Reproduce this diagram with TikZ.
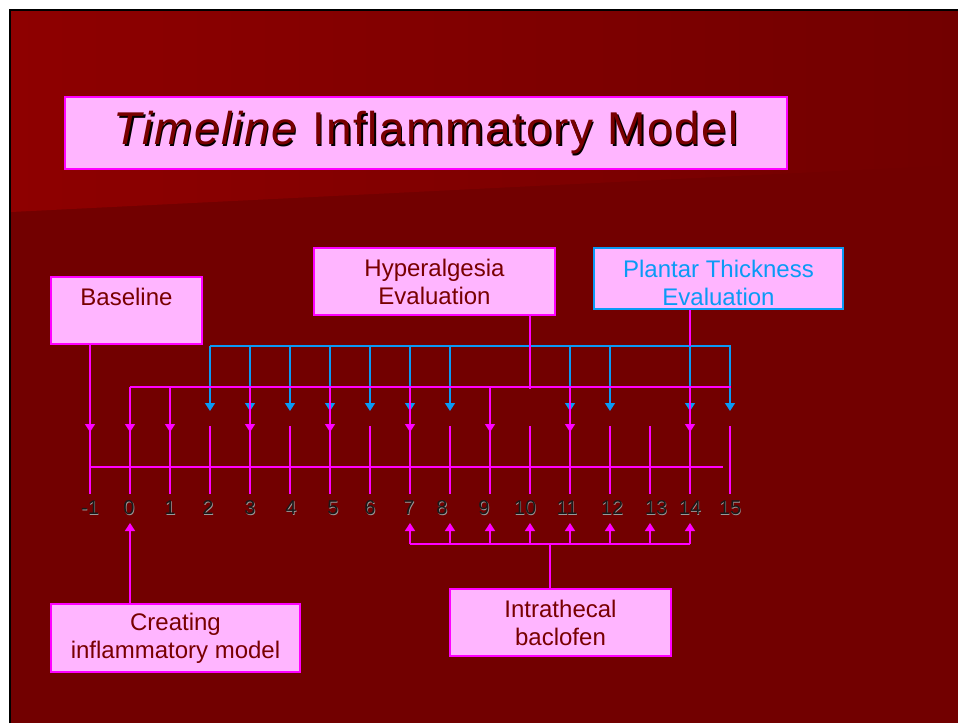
\documentclass[tikz,border=0pt]{standalone}
\usepackage{fontspec}
\setmainfont{Liberation Sans}
\usetikzlibrary{arrows.meta}

\definecolor{slidered}{HTML}{720000}
\definecolor{slidetop}{HTML}{8E0000}
\definecolor{boxpink}{HTML}{FFB5FF}
\definecolor{hotpink}{HTML}{FF00FF}
\definecolor{wine}{HTML}{780000}
\definecolor{skyblue}{HTML}{0A9AF5}

\newcommand{\titlewords}{\addfontfeatures{LetterSpace=3}\textit{Timeline} Inflammatory Model}

\begin{document}
\begin{tikzpicture}[x=1pt,y=-1pt,>={Triangle[width=10pt,length=8pt]},
                    line width=1.4pt]
  \tikzstyle{every node}=[font=\fontsize{24}{28}\selectfont]
  \tikzstyle{slidebox}=[draw=hotpink,fill=boxpink,text=wine,line width=1.6pt,
                        align=center,inner sep=0pt]
  \tikzstyle{titletext}=[text=wine,font=\fontsize{46}{52}\selectfont]
  \tikzstyle{dayline}=[draw=hotpink]
  \tikzstyle{evalline}=[draw=skyblue]
  \tikzstyle{daynum}=[text=black!90,font=\fontsize{20}{24}\selectfont]

  \useasboundingbox (0,0) rectangle (958,723);
  % slide background
  \fill[white] (0,0) rectangle (958,723);
  \fill[slidered] (10,10) rectangle (958,723);
  \shade[left color=slidetop,right color=slidered] (11,11) -- (958,11) -- (958,165) -- (11,212) -- cycle;
  \draw[black,line width=1.5pt] (10,723) -- (10,10) -- (958,10);

  \node[slidebox,minimum width=722pt,minimum height=72pt] (title) at (426,133) {};
  \node[titletext,text=black] at ([xshift=1.6pt,yshift=-1.6pt]title.center) {\titlewords};
  \node[titletext] (titletxt) at (title.center) {\titlewords};

  \node[slidebox,minimum width=151pt,minimum height=67pt] (baseline) at (126.5,310.5) {Baseline\\~};
  \node[slidebox,minimum width=241pt,minimum height=67pt] (hyper)    at (434.5,281.5) {Hyperalgesia\\Evaluation};
  \node[slidebox,draw=skyblue,minimum width=249pt,minimum height=61pt] (plantar) at (718.5,278.5) {};
  \node[text=skyblue,align=center] (plantartxt) at ([yshift=-4.5pt]plantar.center) {Plantar Thickness\\Evaluation};
  \node[slidebox,minimum width=249pt,minimum height=68pt] (creating) at (175.5,638) {Creating\\inflammatory model};
  \node[slidebox,minimum width=221pt,minimum height=67pt] (intra)    at (560.5,622.5) {Intrathecal\\baclofen};

  % days
  \foreach \d in {-1,0,...,15} {
    \coordinate (top\d) at (130+40*\d,426);
    \coordinate (bot\d) at (130+40*\d,494);
    \coordinate (up\d)  at (130+40*\d,523);
    \draw[dayline] (top\d) -- (bot\d);
  }
  \coordinate (axisL) at (91,467);
  \coordinate (axisR) at (723,467);
  \draw[dayline] (axisL) -- (axisR);

  \foreach \d/\lx in {-1/90,0/129,1/170,2/208,3/250,4/291,5/333,6/370,7/409,8/442,
                      9/484,10/525,11/567,12/612,13/656,14/690,15/730} {
    \node[daynum,text=gray!80] at (\lx+0.6,508.6) {\d};
    \node[daynum] (d\d) at (\lx,508) {\d};
  }

  % plantar thickness
  \coordinate (planL) at (210,346);
  \coordinate (planR) at (731,346);
  \draw[evalline] (planL) -- (planR);
  \foreach \d in {2,3,4,5,6,7,8,11,12,14,15}
    \draw[evalline,->] (top\d |- planL) -- ([yshift=15pt]top\d);
  \draw[dayline] (plantar.south -| top14) -- (top14 |- planL);

  % hyperalgesia
  \coordinate (hypL) at (130,387);
  \coordinate (hypR) at (731,387);
  \draw[dayline] (hypL) -- (hypR);
  \draw[dayline] (hyper.south -| top10) -- ([yshift=-2pt]top10 |- hypL);
  \foreach \d in {0,1,3,5,7,9,11,14}
    \draw[dayline,->] (top\d |- hypL) -- ([yshift=-6pt]top\d);
  \draw[dayline,->] (baseline.south -| top-1) -- ([yshift=-6pt]top-1);

  % treatment
  \coordinate (ithL) at (410,544);
  \coordinate (ithR) at (690,544);
  \coordinate (ith)  at (550,544);
  \draw[dayline] (ithL) -- (ithR);
  \foreach \d in {7,...,14}
    \draw[dayline,->] (up\d |- ith) -- (up\d);
  \draw[dayline] (ith) -- (intra.north -| ith);
  \draw[dayline,->] (creating.north -| up0) -- (up0);
\end{tikzpicture}
\end{document}
